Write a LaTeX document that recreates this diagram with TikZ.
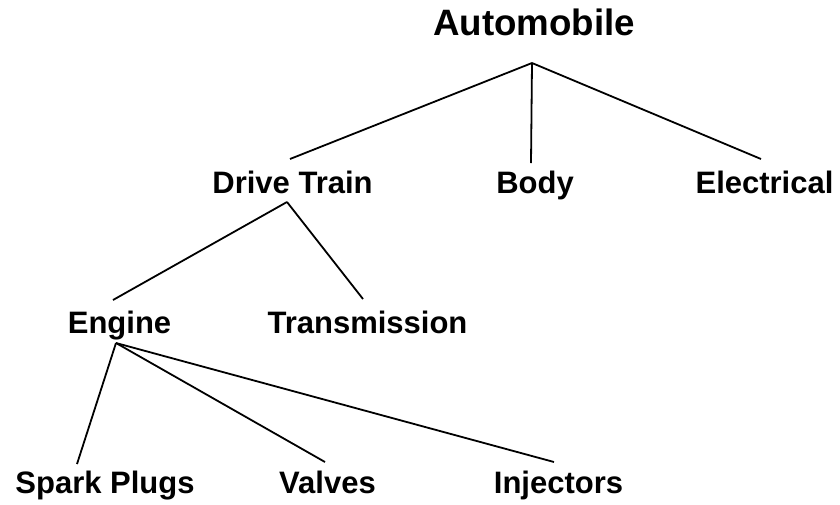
\documentclass[tikz,border=0pt]{standalone}
\usepackage{fontspec}
\setmainfont{Liberation Sans}
\begin{document}
\begin{tikzpicture}[x=1pt,y=-1pt,
  item/.style={font=\bfseries\fontsize{31}{37}\selectfont, inner sep=0pt, anchor=base},
  rootitem/.style={item, font=\bfseries\fontsize{36.7}{44}\selectfont},
  branch/.style={line width=1.8pt, black}]
\useasboundingbox (0,0) rectangle (840,504);

% labels of the hierarchy
\node[rootitem] (auto)   at (534,35)  {Automobile};
\node[item] (drive)  at (292.5,193) {Drive Train};
\node[item] (body)   at (535,193)   {Body};
\node[item] (elec)   at (764.5,193) {Electrical};
\node[item] (engine) at (119.5,333) {Engine};
\node[item] (trans)  at (367.5,333) {Transmission};
\node[item] (spark)  at (105,493)   {Spark Plugs};
\node[item] (valves) at (327.5,493) {Valves};
\node[item] (inj)    at (558.5,493) {Injectors};

% where the branches meet the labels
\coordinate (auto-fork)   at (532,63);
\coordinate (drive-top)   at (290,159);
\coordinate (body-top)    at (531,163);
\coordinate (elec-top)    at (761,159);
\coordinate (drive-fork)  at (287,202);
\coordinate (engine-top)  at (113,300);
\coordinate (trans-top)   at (363,299);
\coordinate (engine-fork) at (116,343);
\coordinate (spark-top)   at (77,464);
\coordinate (valves-top)  at (325,462);
\coordinate (inj-top)     at (554,462);

% branches
\draw[branch] (auto-fork) -- (drive-top);
\draw[branch] (auto-fork) -- (body-top);
\draw[branch] (auto-fork) -- (elec-top);
\draw[branch] (drive-fork) -- (engine-top);
\draw[branch] (drive-fork) -- (trans-top);
\draw[branch] (engine-fork) -- (spark-top);
\draw[branch] (engine-fork) -- (valves-top);
\draw[branch] (engine-fork) -- (inj-top);
\end{tikzpicture}
\end{document}
